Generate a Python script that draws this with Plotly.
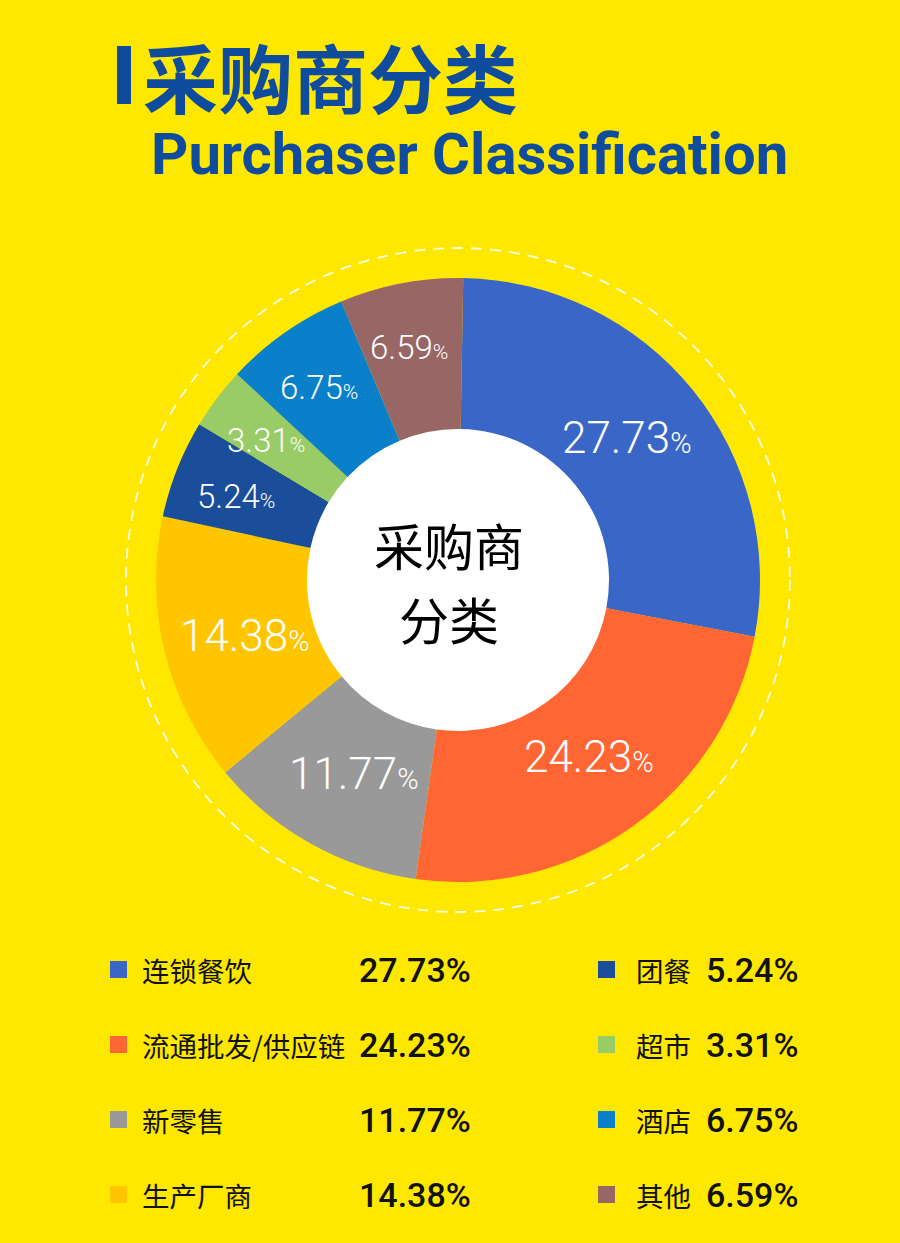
import math
import plotly.graph_objects as go

# ---- data ----
categories = ["连锁餐饮", "流通批发/供应链", "新零售", "生产厂商", "团餐", "超市", "酒店", "其他"]
values = [27.73, 24.23, 11.77, 14.38, 5.24, 3.31, 6.75, 6.59]
colors = ["#3A67C7", "#FF6633", "#999999", "#FFC600", "#1A4E9A", "#99CC66", "#0A80CB", "#996666"]
title_cn = "采购商分类"
title_en = "Purchaser Classification"
center_lines = ["采购商", "分类"]

# ---- layout constants ----
W, H = 900, 1243
BG = "#FFE800"
TITLE_BLUE = "#0F4C9E"
CX, CY, R = 458, 580, 302
HOLE = 0.5


def px(x):
    return x / W


def py(y):
    return 1 - y / H


fig = go.Figure()
fig.add_trace(go.Pie(
    labels=categories,
    values=values,
    marker=dict(colors=colors, line=dict(width=0)),
    hole=HOLE,
    sort=False,
    direction="clockwise",
    rotation=1,
    textposition="none",
    hoverinfo="label+percent",
    showlegend=False,
    domain=dict(x=[px(CX - R), px(CX + R)], y=[py(CY + R), py(CY - R)]),
))

shapes = []
annotations = []

# dashed outer ring
RD = 332
shapes.append(dict(type="circle", xref="paper", yref="paper",
                   x0=px(CX - RD), x1=px(CX + RD), y0=py(CY + RD), y1=py(CY - RD),
                   line=dict(color="rgba(255,255,255,0.9)", width=1.8, dash="11px,8px"),
                   fillcolor="rgba(0,0,0,0)", layer="below"))
# white center
RH = R * HOLE + 2
shapes.append(dict(type="circle", xref="paper", yref="paper",
                   x0=px(CX - RH), x1=px(CX + RH), y0=py(CY + RH), y1=py(CY - RH),
                   line=dict(width=0), fillcolor="white", layer="below"))

# slice labels, placed from cumulative values
total = sum(values)
cum = 0.0
for v in values:
    mid = (cum + v / 2) / total * 2 * math.pi
    cum += v
    big = v >= 10
    rf = 0.73 if big else 0.785
    x = CX + rf * R * math.sin(mid)
    y = CY - rf * R * math.cos(mid)
    fs = 44 if big else 33
    annotations.append(dict(
        x=px(x), y=py(y), xref="paper", yref="paper", showarrow=False,
        xanchor="center", yanchor="middle",
        text=f"{v:.2f}<span style='font-size:{int(fs*0.66)}px'>%</span>",
        font=dict(family="Roboto, 'Noto Sans', sans-serif", size=fs, color="white", weight=300),
    ))

# center text (two lines)
for line, yy in zip(center_lines, [544, 618]):
    annotations.append(dict(
        x=px(CX - 9), y=py(yy), xref="paper", yref="paper", showarrow=False,
        xanchor="center", yanchor="middle", text=line, borderpad=0,
        font=dict(family="'Noto Sans CJK SC', sans-serif", size=50, color="black"),
    ))

# title
shapes.append(dict(type="rect", xref="paper", yref="paper",
                   x0=px(117), x1=px(131), y0=py(104), y1=py(46),
                   line=dict(width=0), fillcolor=TITLE_BLUE))
annotations.append(dict(
    x=px(141), y=py(76), xref="paper", yref="paper", showarrow=False,
    xanchor="left", yanchor="middle", text=title_cn,
    font=dict(family="'Noto Sans CJK SC', sans-serif", size=75, color=TITLE_BLUE, weight="bold"),
))
annotations.append(dict(
    x=px(149), y=py(154), xref="paper", yref="paper", showarrow=False,
    xanchor="left", yanchor="middle", text=title_en,
    font=dict(family="Roboto, sans-serif", size=58, color=TITLE_BLUE, weight="bold"),
))

# custom legend
row_y = [970, 1045, 1120, 1195]
cols = [dict(sq=110, lab=140, val=357), dict(sq=598, lab=634, val=704)]
for i, (cat, v, c) in enumerate(zip(categories, values, colors)):
    col = cols[i // 4]
    yy = row_y[i % 4]
    shapes.append(dict(type="rect", xref="paper", yref="paper",
                       x0=px(col["sq"]), x1=px(col["sq"] + 17), y0=py(yy + 8), y1=py(yy - 9),
                       line=dict(width=0), fillcolor=c))
    annotations.append(dict(
        x=px(col["lab"]), y=py(yy), xref="paper", yref="paper", showarrow=False,
        xanchor="left", yanchor="middle", text=cat,
        font=dict(family="'Noto Sans CJK SC', sans-serif", size=27.5, color="#111111"),
    ))
    annotations.append(dict(
        x=px(col["val"]), y=py(yy), xref="paper", yref="paper", showarrow=False,
        xanchor="left", yanchor="middle", text=f"{v:.2f}%",
        font=dict(family="Roboto, sans-serif", size=34, color="#111111", weight=500),
    ))

fig.update_layout(
    width=W, height=H,
    margin=dict(l=0, r=0, t=0, b=0),
    paper_bgcolor=BG, plot_bgcolor=BG,
    shapes=shapes, annotations=annotations,
    showlegend=False,
)

fig.write_html("out.html")
